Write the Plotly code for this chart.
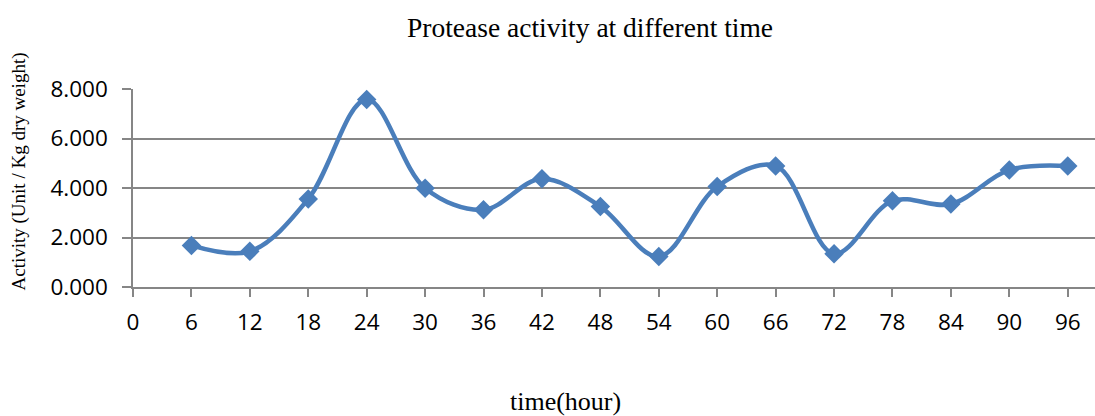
import plotly.graph_objects as go

hours = [6, 12, 18, 24, 30, 36, 42, 48, 54, 60, 66, 72, 78, 84, 90, 96]
activity = [1.68, 1.44, 3.56, 7.58, 3.99, 3.12, 4.37, 3.25, 1.23, 4.06, 4.89, 1.34, 3.48, 3.35, 4.73, 4.89]
x_ticks = list(range(0, 97, 6))
y_ticks = [0, 2, 4, 6, 8]

W, H = 1095, 416
L, R, T, B = 133, 0, 89, 129
pw = W - L - R
ph = H - T - B

def px(x):
    return (x - L) / pw

def py(y):
    return (H - B - y) / ph

blue = "#4A7EBB"
grid = "#868686"

fig = go.Figure()
fig.add_trace(go.Scatter(
    x=hours, y=activity, mode="lines+markers",
    line=dict(color=blue, width=4.5, shape="spline", smoothing=1.0),
    marker=dict(symbol="diamond", size=15, color=blue),
    cliponaxis=False, showlegend=False,
))

fig.update_layout(
    width=W, height=H,
    margin=dict(l=L, r=R, t=T, b=B, pad=0),
    paper_bgcolor="white", plot_bgcolor="white",
    font=dict(family="Open Sans", color="black"),
    xaxis=dict(range=[0, 98.8], tickvals=x_ticks, ticktext=[str(v) for v in x_ticks],
               showgrid=False, zeroline=False, showline=True, linecolor=grid, linewidth=1.5,
               ticks="outside", ticklen=8, tickcolor=grid, tickwidth=1.5, ticklabelstandoff=6,
               tickfont=dict(family="Open Sans", size=22.5, color="black")),
    yaxis=dict(range=[0, 8], tickvals=y_ticks, tickformat=".3f",
               showgrid=True, gridcolor=grid, gridwidth=1.5, zeroline=False,
               showline=True, linecolor=grid, linewidth=1.5,
               ticks="outside", ticklen=9, tickcolor=grid, tickwidth=1.5, ticklabelstandoff=10,
               tickfont=dict(family="Open Sans", size=22.5, color="black")),
    annotations=[
        dict(text="Protease activity at different time", x=px(589.5), y=py(27),
             xref="paper", yref="paper", xanchor="center", yanchor="middle", showarrow=False,
             font=dict(family="Liberation Serif", size=27.5, color="black")),
        dict(text="time(hour)", x=px(565), y=py(401),
             xref="paper", yref="paper", xanchor="center", yanchor="middle", showarrow=False,
             font=dict(family="Liberation Serif", size=26, color="black")),
        dict(text="Activity (Unit / Kg dry weight)", x=px(18), y=py(171.5), textangle=-90,
             xref="paper", yref="paper", xanchor="center", yanchor="middle", showarrow=False,
             font=dict(family="Liberation Serif", size=19, color="black")),
    ],
)

fig.write_html("out.html")
